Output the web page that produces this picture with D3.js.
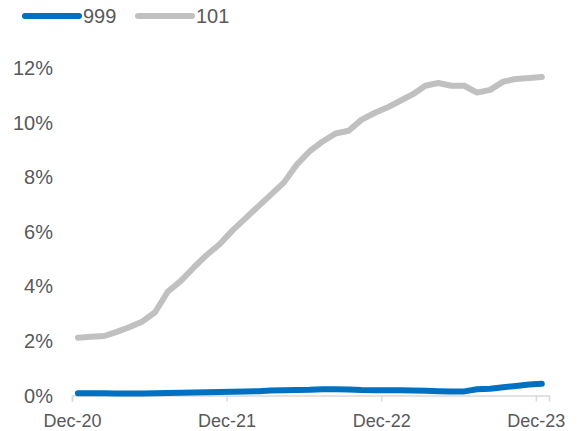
<!DOCTYPE html>
<html>
<head>
<meta charset="utf-8">
<script src="https://cdn.jsdelivr.net/npm/d3@7"></script>
<style>
  body { margin: 0; background: #fff; }
  text { font-family: "Liberation Sans", Arial, sans-serif; fill: #595959; }
</style>
</head>
<body>
<svg id="chart" width="581" height="431"></svg>
<script>
// monthly observations Dec-20 .. Dec-23
var months = d3.timeMonth.range(new Date(2020, 11, 1), new Date(2024, 0, 1)).map(d => d3.timeDay.offset(d, 14));

var seriesNames = ["999", "101"];
var seriesColors = ["#0070c0", "#c0c0c0"];

var values999 = [0.08, 0.08, 0.08, 0.07, 0.07, 0.07, 0.08, 0.09, 0.10, 0.11, 0.12, 0.13,
                 0.14, 0.15, 0.16, 0.18, 0.19, 0.20, 0.21, 0.23, 0.23, 0.22, 0.20, 0.19,
                 0.19, 0.19, 0.18, 0.17, 0.16, 0.15, 0.15, 0.23, 0.25, 0.30, 0.35, 0.40, 0.43];

var values101 = [2.12, 2.15, 2.18, 2.32, 2.50, 2.70, 3.05, 3.80, 4.20, 4.70, 5.15, 5.55,
                 6.05, 6.50, 6.95, 7.35, 7.80, 8.45, 8.95, 9.30, 9.60, 9.70, 10.10, 10.35,
                 10.55, 10.80, 11.05, 11.35, 11.45, 11.35, 11.35, 11.10, 11.20, 11.50, 11.60, 11.63, 11.67];

var yTicks = [0, 2, 4, 6, 8, 10, 12];
var xTickDates = [new Date(2020, 11, 1), new Date(2021, 11, 1), new Date(2022, 11, 1), new Date(2023, 11, 1)];

var svg = d3.select("svg#chart");

var x = d3.scaleTime()
    .domain([new Date(2020, 11, 1), new Date(2024, 0, 1)])
    .range([72, 549]);

var y = d3.scaleLinear()
    .domain([0, 12])
    .range([395.5, 68]);

// y labels (no axis line, no gridlines)
svg.append("g")
    .selectAll("text")
    .data(yTicks)
    .enter()
    .append("text")
    .attr("x", 53)
    .attr("y", d => y(d))
    .attr("dy", "0.35em")
    .style("text-anchor", "end")
    .style("font-size", "20px")
    .text(d => d + "%");

// x axis
var xAxis = svg.append("g")
    .attr("transform", "translate(0," + y(0) + ")")
    .call(d3.axisBottom(x).tickValues(xTickDates).tickSize(6).tickPadding(13).tickFormat(d3.timeFormat("%b-%y")));

xAxis.select(".domain").attr("stroke", "#d9d9d9").attr("stroke-width", 1.5);
xAxis.selectAll(".tick line").attr("stroke", "#d9d9d9").attr("stroke-width", 1.5);
xAxis.selectAll(".tick text")
    .attr("fill", "#595959")
    .style("font-family", "Liberation Sans, Arial, sans-serif")
    .style("font-size", "18px");

var line = d3.line()
    .x((d, i) => x(months[i]))
    .y(d => y(d));

var allSeries = [values999, values101];

svg.append("g")
    .selectAll("path")
    .data(allSeries.slice().reverse())
    .enter()
    .append("path")
    .attr("d", d => line(d))
    .attr("fill", "none")
    .attr("stroke", (d, i) => seriesColors[1 - i])
    .attr("stroke-width", 6)
    .attr("stroke-linecap", "round")
    .attr("stroke-linejoin", "round");

// legend
var legend = svg.append("g")
    .selectAll("g")
    .data(seriesNames)
    .enter()
    .append("g")
    .attr("transform", (d, i) => "translate(" + (25 + i * 113) + ",16)");

legend.append("line")
    .attr("x1", 0)
    .attr("x2", 54)
    .attr("y1", 0)
    .attr("y2", 0)
    .attr("stroke", (d, i) => seriesColors[i])
    .attr("stroke-width", 6)
    .attr("stroke-linecap", "round");

legend.append("text")
    .attr("x", 58)
    .attr("y", 0)
    .attr("dy", "0.35em")
    .style("font-size", "20px")
    .text(d => d);
</script>
</body>
</html>
